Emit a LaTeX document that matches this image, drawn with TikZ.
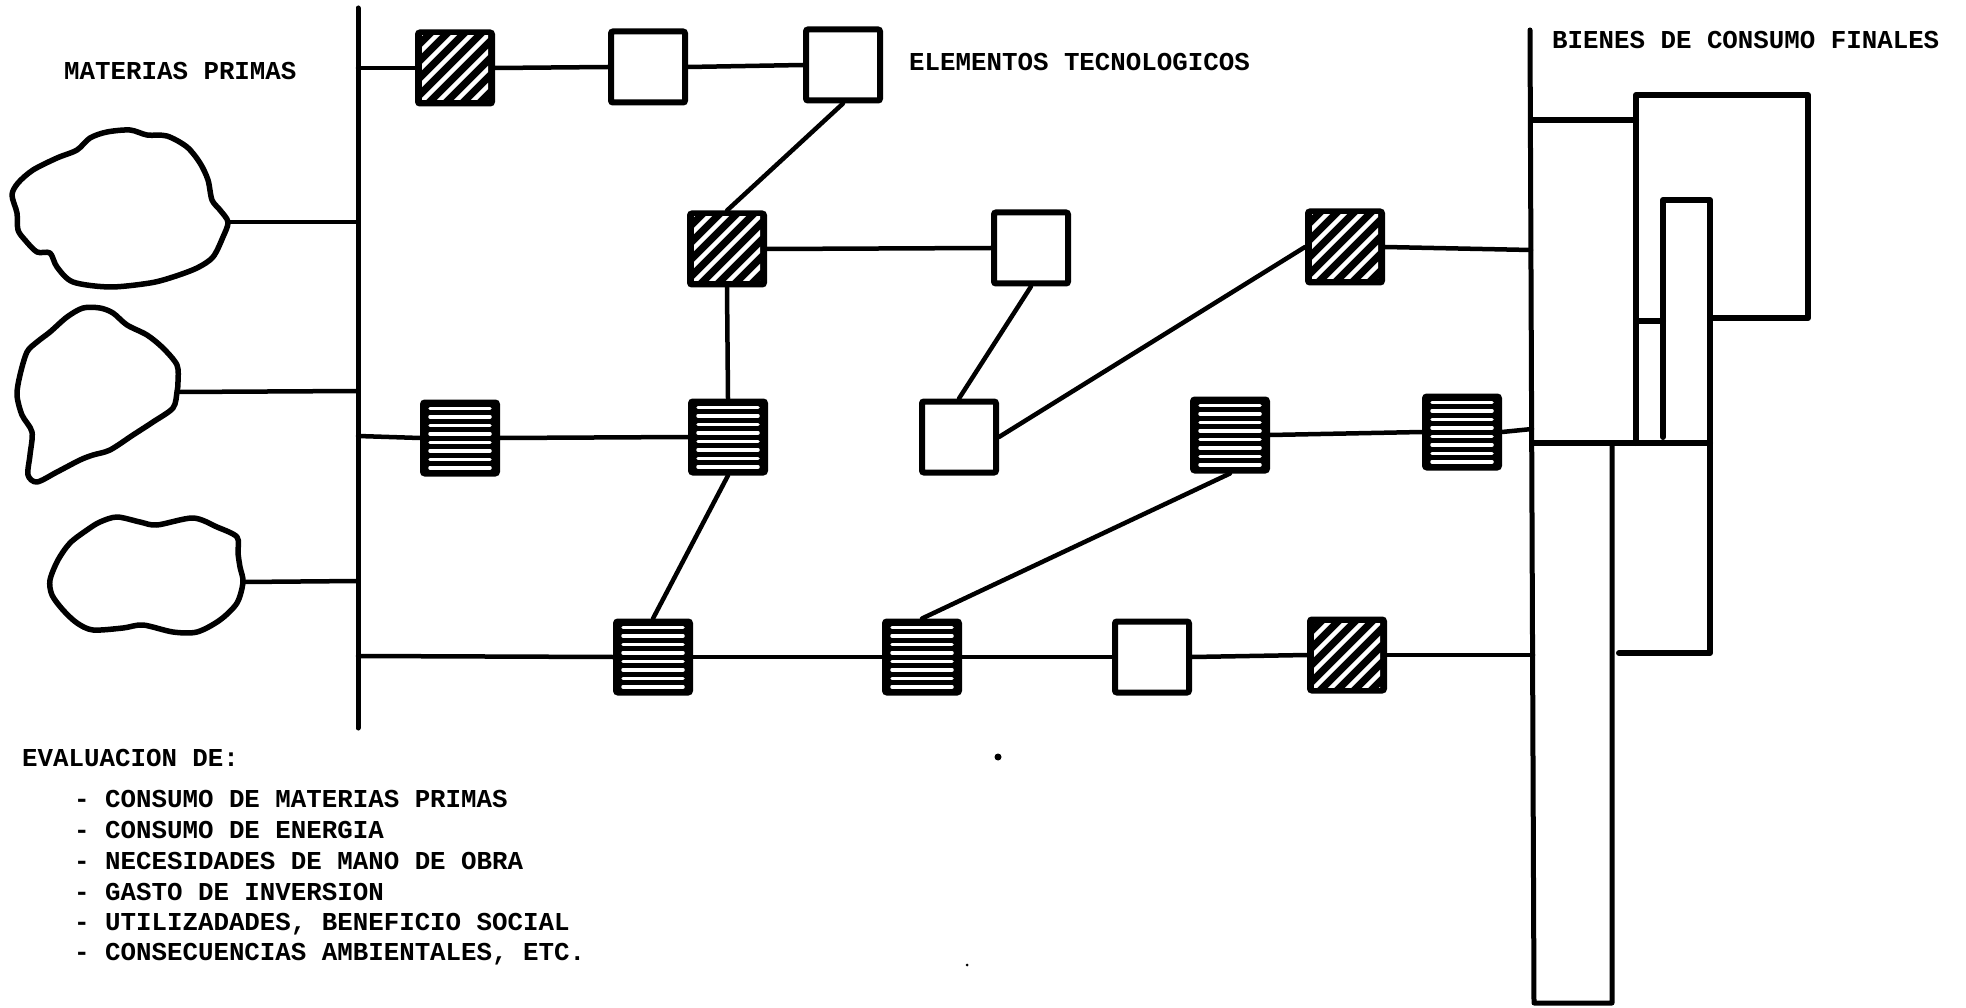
\documentclass[tikz,border=0pt]{standalone}
\usepackage{fontspec}
\setmonofont{Liberation Mono}
\newcommand{\HatchBox}[3]{%
  \node[fillbox] (#1) at (#2,#3) {};
  \begin{scope}
    \clip (#2-33,#3-32) rectangle (#2+33,#3+32);
    \foreach \k in {-119,-102,...,119}
      \draw[white,line width=4.5pt] (#2+\k-45,#3+45) -- (#2+\k+45,#3-45);
  \end{scope}}
\newcommand{\StripeBox}[3]{%
  \node[fillbox] (#1) at (#2,#3) {};
  \foreach \k in {-29.75,-21.25,...,30}
    \draw[white,line width=3.5pt,line cap=round] (#2-30,#3+\k) -- (#2+30,#3+\k);}
\begin{document}
\begin{tikzpicture}[x=1pt,y=-1pt,
  ln/.style={line width=4.5pt, line cap=round},
  bus/.style={line width=5pt, line cap=round, line join=round},
  frame/.style={line width=6pt, line join=round, line cap=round},
  blob/.style={line width=5.5pt, line join=round},
  boxbase/.style={draw, line width=6pt, minimum width=74pt, minimum height=71pt, inner sep=0pt, rounded corners=2pt},
  emptybox/.style={boxbase, fill=white},
  fillbox/.style={boxbase, fill=black},
  lbl/.style={font=\ttfamily\bfseries\fontsize{25.8pt}{31pt}\selectfont, inner sep=0pt, anchor=base west}]
\useasboundingbox (0,0) rectangle (1966,1008);

% texts
\node[lbl] (tMat) at (64,80) {MATERIAS PRIMAS};
\node[lbl] (tEle) at (909,71) {ELEMENTOS TECNOLOGICOS};
\node[lbl] (tBie) at (1552,49) {BIENES DE CONSUMO FINALES};
\node[lbl] (tEva) at (22,766) {EVALUACION DE:};
\node[lbl] (l1) at (74,807) {- CONSUMO DE MATERIAS PRIMAS};
\node[lbl] (l2) at (74,838) {- CONSUMO DE ENERGIA};
\node[lbl] (l3) at (74,869) {- NECESIDADES DE MANO DE OBRA};
\node[lbl] (l4) at (74,900) {- GASTO DE INVERSION};
\node[lbl] (l5) at (74,930) {- UTILIZADADES, BENEFICIO SOCIAL};
\node[lbl] (l6) at (74,960) {- CONSECUENCIAS AMBIENTALES, ETC.};

% left bus
\coordinate (Lt) at (358,8);
\coordinate (Lb) at (358,728);
\draw[bus] (Lt) -- (Lb);
\coordinate (L1) at (358,68);
\coordinate (Lm1) at (358,222);
\coordinate (Lm2) at (358,391);
\coordinate (L3) at (358,436);
\coordinate (Lm3) at (358,581);
\coordinate (L4) at (358,656);

% raw material blobs
\draw[blob] plot[smooth cycle, tension=0.5] coordinates {(130,130) (147,135) (167,136) (187,147) (200,163) (208,180) (212,200) (220,210) (228,222) (223,237) (213,257) (197,268) (173,277) (150,283) (110,287) (73,282) (57,267) (50,253) (37,252) (25,240) (18,230) (17,213) (12,195) (18,183) (33,170) (57,158) (77,150) (90,138) (107,132)};
\coordinate (m1) at (228,222);
\draw[blob] plot[smooth cycle, tension=0.5] coordinates {(100,308) (113,313) (127,325) (147,335) (163,348) (177,365) (178,382) (177,392) (173,408) (153,422) (133,435) (110,450) (93,455) (80,460) (57,472) (37,482) (28,475) (30,455) (32,432) (22,415) (17,395) (20,375) (27,352) (37,342) (50,332) (67,317) (83,308)};
\coordinate (m2) at (177,392);
\draw[blob] plot[smooth cycle, tension=0.5] coordinates {(117,517) (140,522) (157,525) (193,518) (217,527) (237,537) (238,553) (240,567) (243,582) (237,603) (220,620) (197,632) (173,632) (143,625) (123,628) (93,630) (77,623) (63,610) (52,595) (50,580) (58,560) (70,543) (87,530) (100,522)};
\coordinate (m3) at (243,582);
\draw[ln] (m1) -- (Lm1);
\draw[ln] (m2) -- (Lm2);
\draw[ln] (m3) -- (Lm3);

% boxes
\HatchBox{h1}{455}{68}
\node[emptybox] (e1) at (648,67) {};
\node[emptybox] (e2) at (843,65) {};
\HatchBox{h2}{727}{249}
\node[emptybox] (e3) at (1031,248) {};
\HatchBox{h3}{1345}{247}
\StripeBox{s1}{460}{438}
\StripeBox{s2}{728}{437}
\node[emptybox] (e4) at (959,437) {};
\StripeBox{s3}{1230}{435}
\StripeBox{s4}{1462}{432}
\StripeBox{s5}{653}{657}
\StripeBox{s6}{922}{657}
\node[emptybox] (e5) at (1152,657) {};
\HatchBox{h4}{1347}{655}

% right structure
\coordinate (Rt) at (1530,30);
\coordinate (Rb) at (1534,1003);
\coordinate (R2) at (1531,250);
\coordinate (R3) at (1532,429);
\coordinate (R4) at (1533,655);
\draw[bus] (Rt) -- (Rb) -- (1612,1003) -- (1612,443);
\draw[frame] (1533,443) -- (1710,443);
\draw[frame] (1531,120) -- (1636,120);
\draw[frame] (1636,443) -- (1636,95) -- (1808,95) -- (1808,318) -- (1710,318);
\draw[frame] (1636,321) -- (1663,321);
\draw[frame] (1663,437) -- (1663,200) -- (1710,200) -- (1710,653) -- (1619,653);

% connectors
\draw[ln] (L1) -- (h1.west);
\draw[ln] (h1.east) -- (e1.west);
\draw[ln] (e1.east) -- (e2.west);
\draw[ln] (e2.south) -- (h2.north);
\draw[ln] (h2.east) -- (e3.west);
\draw[ln] (h2.south) -- (s2.north);
\draw[ln] (e3.south) -- (e4.north);
\draw[ln] (e4.east) -- (h3.west);
\draw[ln] (h3.east) -- (R2);
\draw[ln] (L3) -- (s1.west);
\draw[ln] (s1.east) -- (s2.west);
\draw[ln] (s3.east) -- (s4.west);
\draw[ln] (s4.east) -- (R3);
\draw[ln] (s2.south) -- (s5.north);
\draw[ln] (s3.south) -- (s6.north);
\draw[ln] (L4) -- (s5.west);
\draw[ln] (s5.east) -- (s6.west);
\draw[ln] (s6.east) -- (e5.west);
\draw[ln] (e5.east) -- (h4.west);
\draw[ln] (h4.east) -- (R4);

% specks
\fill (998,757) circle (3.5pt);
\fill (967,965) circle (1.5pt);
\end{tikzpicture}
\end{document}
